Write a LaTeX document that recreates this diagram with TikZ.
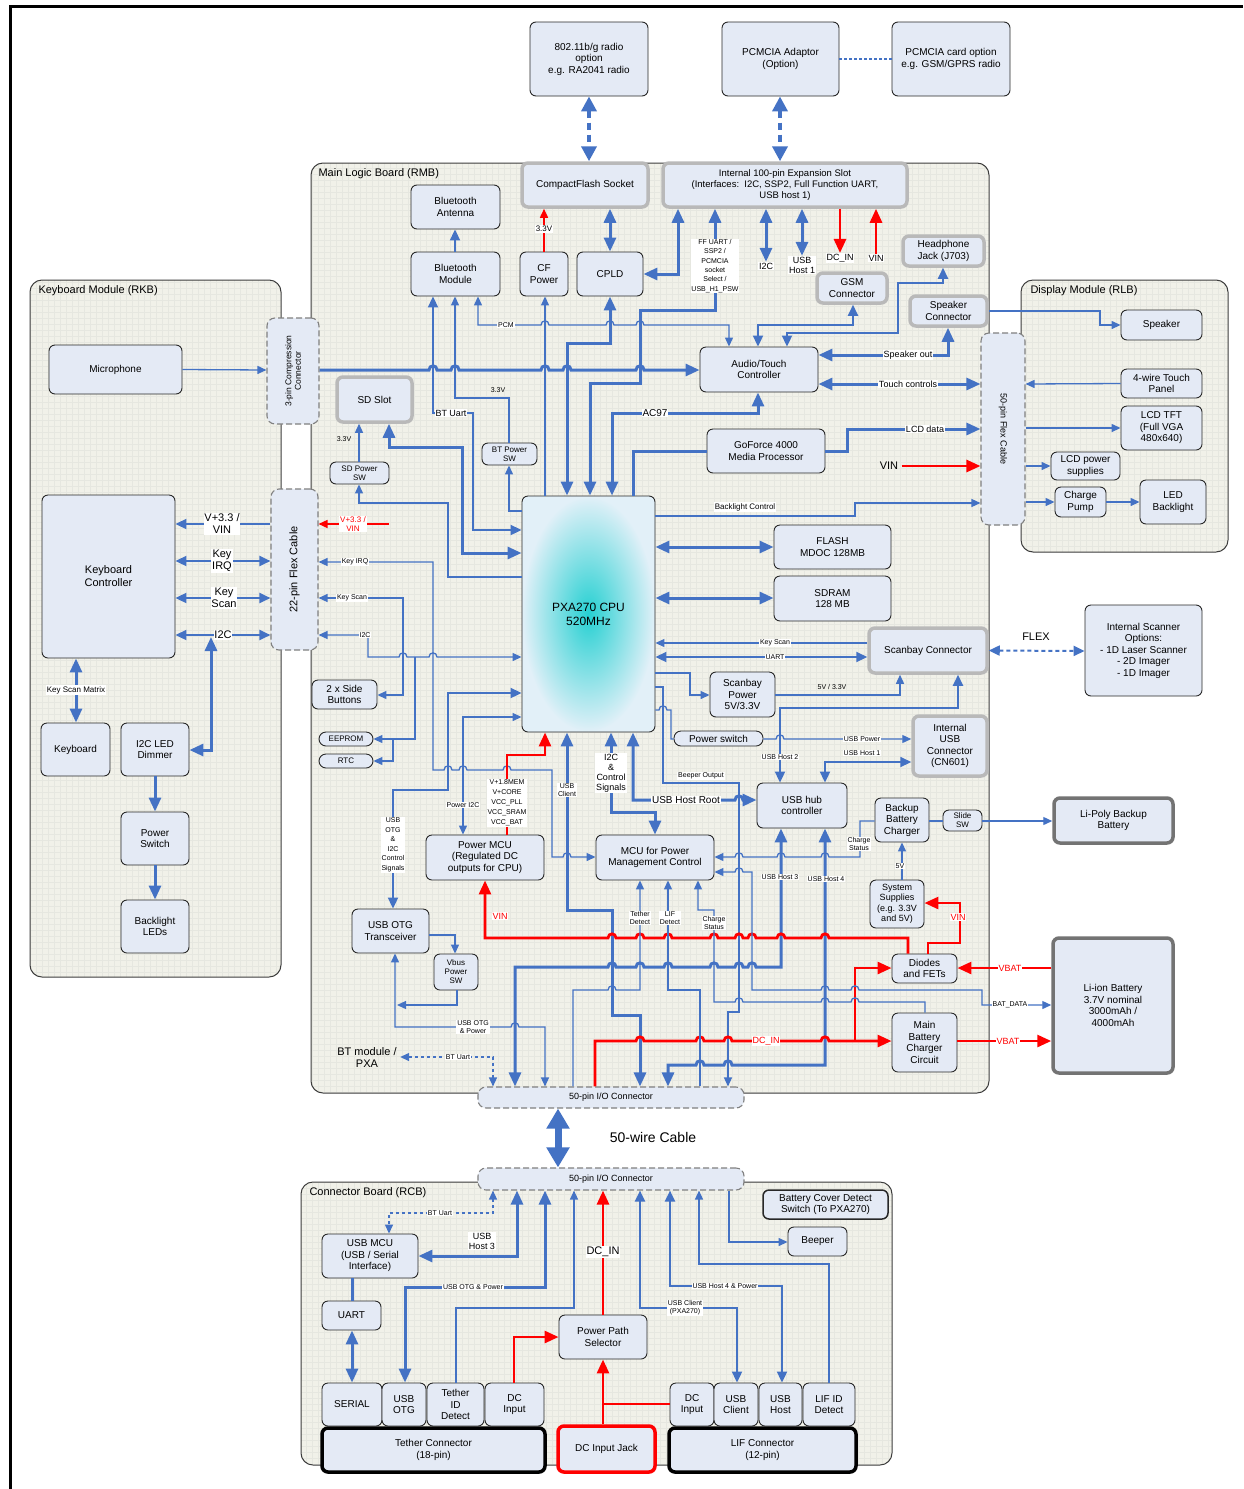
\documentclass[tikz,border=0pt]{standalone}
\usepackage{fontspec}
\setmainfont{Liberation Sans}
\usetikzlibrary{arrows.meta}
\definecolor{blu}{RGB}{68,114,196}
\definecolor{boxc}{RGB}{228,234,245}
\definecolor{panelc}{RGB}{241,241,233}
\definecolor{gridc}{RGB}{230,231,224}
\definecolor{gbord}{RGB}{185,185,185}
\definecolor{dgbord}{RGB}{115,115,115}
\definecolor{rr}{RGB}{255,0,0}
\definecolor{pborder}{RGB}{60,60,60}
\definecolor{bborder}{RGB}{40,40,40}
\newcommand\fsb{\fontsize{10}{11.5}\selectfont}
\newcommand\fss{\fontsize{8}{9}\selectfont}
\newcommand\fst{\fontsize{7}{8}\selectfont}
\newcommand\fsl{\fontsize{9}{10}\selectfont}
\newcommand\fsm{\fontsize{11}{12}\selectfont}
\newcommand\bx[7]{\node[#7, minimum width={(#4)-(#2)}, minimum height={(#5)-(#3)}] (#1) at ({((#2)+(#4))/2},{((#3)+(#5))/2}) {#6};}
\newcommand\jmp[2]{-- ({#1-4},#2) .. controls ({#1-4},{#2-5.5}) and ({#1+4},{#2-5.5}) .. ({#1+4},#2)}
\newcommand\panel[4]{\begin{scope}\clip[rounded corners=12] (#1,#2) rectangle (#3,#4);
 \fill[panelc] (#1,#2) rectangle (#3,#4);
 \draw[gridc, line width=0.35, step=6pt] (#1pt,-#4pt) grid (#3pt,-#2pt);\end{scope}
 \draw[line width=1, draw=pborder, rounded corners=12] (#1,#2) rectangle (#3,#4);}
\tikzset{
 xbox/.style={draw=bborder, line width=0.9, fill=boxc, rounded corners=6, align=center, inner sep=1pt, font=\fsb},
 gbox/.style={xbox, draw=gbord, line width=3.5},
 kbox/.style={xbox, draw=black, line width=3.5},
 dkbox/.style={xbox, draw=dgbord, line width=3.5},
 rbox/.style={xbox, draw=rr, line width=3.5},
 pill/.style={xbox, rounded corners=7},
 dbox/.style={draw=gray, dash pattern=on 6pt off 3pt, line width=1.1, fill=boxc, rounded corners=8, inner sep=1pt},
 cpubox/.style={draw=bborder, line width=0.9, rounded corners=6, shading=radial, inner color={rgb,255:red,38;green,208;blue,210}, outer color={rgb,255:red,226;green,240;blue,248}, align=center, font=\fontsize{12}{14}\selectfont},
 wthin/.style={draw=blu, line width=1.3, >={Triangle[length=9pt,width=8pt]}},
 wmed/.style={draw=blu, line width=2, >={Triangle[length=11pt,width=10pt]}},
 wthick/.style={draw=blu, line width=3, >={Triangle[length=14pt,width=12pt]}},
 wred/.style={draw=rr, line width=1.5, >={Triangle[length=9pt,width=8pt]}},
 wredk/.style={draw=rr, line width=2.8, >={Triangle[length=14pt,width=12pt]}},
 bigd/.style={draw=blu, line width=4, dash pattern=on 7pt off 5pt, arrows={Triangle[length=15pt,width=15pt]-Triangle[length=15pt,width=15pt]}},
 huge/.style={draw=blu, line width=7, arrows={Triangle[length=20pt,width=22pt]-Triangle[length=20pt,width=22pt]}},
 lab/.style={fill=white, inner sep=0.8pt, align=center, font=\fsl},
 labs/.style={lab, font=\fst},
 ptitle/.style={anchor=west, font=\fontsize{11}{13}\selectfont},
}
\begin{document}
\begin{tikzpicture}[x=1pt,y=-1pt]
\fill[white] (0,0) rectangle (1243,1489);
\useasboundingbox (0,0) rectangle (1243,1489);
\draw[line width=3] (10,1489) -- (10,6) -- (1243,6);
% panels
\panel{311}{163}{989}{1093}
\panel{30}{280}{281}{977}
\panel{1021}{280}{1228}{552}
\panel{301}{1182}{892}{1465}
\node[ptitle] (trmb) at (315,174) {Main Logic Board (RMB)};
\node[ptitle] (trkb) at (35,291) {Keyboard Module (RKB)};
\node[ptitle] (trlb) at (1027,291) {Display Module (RLB)};
\node[ptitle] (trcb) at (306,1193) {Connector Board (RCB)};
% top outside
\bx{radio}{530}{22}{648}{96}{802.11b/g radio\\option\\e.g. RA2041 radio}{xbox}
\bx{pcmad}{722}{22}{839}{96}{PCMCIA Adaptor\\(Option)}{xbox}
\bx{pcmcard}{892}{22}{1010}{96}{PCMCIA card option\\e.g. GSM/GPRS radio}{xbox}
% RMB boxes
\bx{cfs}{522}{163}{648}{207}{CompactFlash Socket}{gbox}
\bx{slot}{663}{163}{907}{207}{Internal 100-pin Expansion Slot\\(Interfaces:\ \ I2C, SSP2, Full Function UART,\\USB host 1)}{gbox, font=\fontsize{9.5}{11}\selectfont}
\bx{hp}{903}{236}{984}{266}{Headphone\\Jack (J703)}{gbox}
\bx{gsm}{817}{273}{887}{303}{GSM\\Connector}{gbox}
\bx{spkc}{910}{296}{987}{326}{Speaker\\Connector}{gbox}
\bx{sdslot}{337}{377}{412}{422}{SD Slot}{gbox}
\bx{scanc}{869}{628}{987}{673}{Scanbay Connector}{gbox}
\bx{iusb}{913}{716}{987}{776}{Internal\\USB\\Connector\\(CN601)}{gbox}
\bx{btant}{411}{185}{500}{229}{Bluetooth\\Antenna}{xbox}
\bx{btmod}{411}{252}{500}{296}{Bluetooth\\Module}{xbox}
\bx{cfp}{520}{252}{568}{296}{CF\\Power}{xbox}
\bx{cpld}{577}{252}{643}{296}{CPLD}{xbox}
\bx{audio}{700}{347}{818}{392}{Audio/Touch\\Controller}{xbox}
\bx{gf}{707}{429}{825}{473}{GoForce 4000\\Media Processor}{xbox}
\bx{cpu}{522}{496}{655}{732}{PXA270 CPU\\520MHz}{cpubox}
\bx{flash}{774}{525}{891}{569}{FLASH\\MDOC 128MB}{xbox}
\bx{sdram}{774}{576}{891}{621}{SDRAM\\128 MB}{xbox}
\bx{scpw}{710}{672}{775}{717}{Scanbay\\Power\\5V/3.3V}{xbox}
\bx{pwsw}{674}{731}{763}{746}{Power switch}{pill}
\bx{hub}{757}{783}{847}{828}{USB hub\\controller}{xbox}
\bx{bbc}{875}{798}{929}{842}{Backup\\Battery\\Charger}{xbox}
\bx{slide}{943}{810}{982}{831}{Slide\\SW}{xbox, font=\fss}
\bx{pmcu}{426}{835}{544}{880}{Power MCU\\(Regulated DC\\outputs for CPU)}{xbox}
\bx{mcupm}{596}{835}{714}{880}{MCU for Power\\Management Control}{xbox}
\bx{syss}{870}{880}{924}{928}{System\\Supplies\\(e.g. 3.3V\\and 5V)}{xbox, font=\fontsize{9}{10.5}\selectfont}
\bx{diodes}{892}{954}{957}{983}{Diodes\\and FETs}{xbox}
\bx{mbc}{892}{1013}{957}{1072}{Main\\Battery\\Charger\\Circuit}{xbox}
\bx{otg}{352}{909}{429}{953}{USB OTG\\Transceiver}{xbox}
\bx{vbus}{434}{954}{478}{990}{Vbus\\Power\\SW}{xbox, font=\fss}
\bx{side}{312}{680}{377}{709}{2 x Side\\Buttons}{xbox}
\bx{eeprom}{319}{732}{373}{746}{EEPROM}{pill, font=\fss}
\bx{rtc}{319}{754}{373}{768}{RTC}{pill, font=\fss}
\bx{sdpw}{330}{462}{389}{484}{SD Power\\SW}{xbox, font=\fss}
\bx{btpw}{482}{443}{537}{465}{BT Power\\SW}{xbox, font=\fss}
\bx{pin3}{267}{318}{319}{424}{}{dbox}
\node[rotate=90, font=\fontsize{8.5}{9.5}\selectfont, align=center] (pin3t) at (pin3) {3-pin Compression\\Connector};
\bx{flex22}{271}{489}{318}{650}{}{dbox}
\node[rotate=90, font=\fsm] (flex22t) at (flex22) {22-pin Flex Cable};
\bx{flex50}{981}{333}{1025}{525}{}{dbox}
\node[rotate=-90, font=\fsl] (flex50t) at (flex50) {50-pin Flex Cable};
\bx{io1}{478}{1087}{744}{1108}{50-pin I/O Connector}{dbox, font=\fsl}
\bx{io2}{478}{1168}{744}{1190}{50-pin I/O Connector}{dbox, font=\fsl}
% keyboard
\bx{mic}{49}{345}{182}{394}{Microphone}{xbox}
\bx{kc}{42}{495}{175}{658}{Keyboard\\Controller}{xbox, font=\fontsize{11}{13}\selectfont}
\bx{kbd}{41}{723}{110}{776}{Keyboard}{xbox}
\bx{led}{121}{723}{189}{776}{I2C LED\\Dimmer}{xbox}
\bx{pwr}{121}{812}{189}{865}{Power\\Switch}{xbox}
\bx{bl}{121}{900}{189}{953}{Backlight\\LEDs}{xbox}
% display
\bx{spk}{1121}{310}{1202}{340}{Speaker}{xbox}
\bx{touch}{1121}{369}{1202}{398}{4-wire Touch\\Panel}{xbox}
\bx{lcd}{1121}{406}{1202}{450}{LCD TFT\\(Full VGA\\480x640)}{xbox}
\bx{lcdps}{1051}{452}{1120}{480}{LCD power\\supplies}{xbox}
\bx{cpump}{1055}{487}{1106}{517}{Charge\\Pump}{xbox}
\bx{ledbl}{1140}{480}{1206}{524}{LED\\Backlight}{xbox}
% right outside
\bx{scanopt}{1085}{605}{1202}{696}{Internal Scanner\\Options:\\- 1D Laser Scanner\\- 2D Imager\\- 1D Imager}{xbox}
\bx{lipoly}{1054}{798}{1173}{843}{Li-Poly Backup\\Battery}{dkbox}
\bx{liion}{1053}{938}{1173}{1073}{Li-ion Battery\\3.7V nominal\\3000mAh /\\4000mAh}{dkbox}
% connector board
\bx{bcd}{763}{1190}{888}{1219}{Battery Cover Detect\\Switch (To PXA270)}{xbox, line width=1.5}
\bx{beeper}{788}{1227}{847}{1256}{Beeper}{xbox}
\bx{usbmcu}{322}{1234}{418}{1278}{USB MCU\\(USB / Serial\\Interface)}{xbox}
\bx{uart}{322}{1301}{381}{1330}{UART}{xbox}
\bx{pps}{559}{1315}{647}{1359}{Power Path\\Selector}{xbox}
\bx{serial}{322}{1383}{382}{1426}{SERIAL}{xbox}
\bx{usbotg}{382}{1383}{426}{1426}{USB\\OTG}{xbox}
\bx{tid}{427}{1383}{484}{1426}{Tether\\ID\\Detect}{xbox}
\bx{dci1}{485}{1383}{544}{1426}{DC\\Input}{xbox}
\bx{tcon}{322}{1428}{545}{1472}{Tether Connector\\(18-pin)}{kbox}
\bx{dcj}{558}{1426}{655}{1472}{DC Input Jack}{rbox}
\bx{dci2}{670}{1383}{714}{1426}{DC\\Input}{xbox}
\bx{usbc}{714}{1383}{758}{1426}{USB\\Client}{xbox}
\bx{usbh}{759}{1383}{802}{1426}{USB\\Host}{xbox}
\bx{lifid}{803}{1383}{855}{1426}{LIF ID\\Detect}{xbox}
\bx{lcon}{669}{1428}{856}{1472}{LIF Connector\\(12-pin)}{kbox}
% ---------------- connectors: top
\draw[bigd] (589,0|-radio.south) -- (589,0|-cfs.north);
\draw[bigd] (780,0|-pcmad.south) -- (780,0|-slot.north);
\draw[draw=blu, line width=2, dash pattern=on 3pt off 2pt] (pcmad.east) -- (pcmcard.west);
\draw[wred,->] (544,0|-cfp.north) -- (544,0|-cfs.south);
\node[labs, font=\fss] (t33a) at (544,229) {3.3V};
\draw[wthick,<->] (610,0|-cpld.north) -- (610,0|-cfs.south);
\draw[wthick,<->] (cpld.east|-0,274) -- (678,274) -- (678,0|-slot.south);
\draw[wthick,<->] (590,0|-cpu.north) -- (590,383) -- (640,383) -- (640,310) -- (715,310) -- (715,0|-slot.south);
\node[lab, font=\fontsize{7}{9.3}\selectfont] (tff) at (715,266) {FF UART /\\SSP2 /\\PCMCIA\\socket\\Select /\\USB\_H1\_PSW};
\node[lab] (ti2c) at (766,266) {I2C};
\draw[wthick,<->] (766,0|-slot.south) -- (ti2c.north);
\node[lab] (tuh1) at (802,265) {USB\\Host 1};
\draw[wthick,<->] (802,0|-slot.south) -- (tuh1.north);
\node[lab] (tdcin) at (840,258) {DC\_IN};
\draw[wredk,->] (840,0|-slot.south) -- (tdcin.north);
\node[lab] (tvin1) at (876,258) {VIN};
\draw[wredk,<-] (876,0|-slot.south) -- (tvin1.north);
% BT and upper RMB
\draw[wmed,->] (455,0|-btmod.north) -- (455,0|-btant.south);
\draw[wthin,<->] (478,0|-btmod.south) -- (478,325) \jmp{545}{325} \jmp{610}{325} \jmp{640}{325} -- (729,325) -- (729,0|-audio.north);
\node[labs] (tpcm) at (506,325) {PCM};
\draw[wmed,<->] (433,0|-btmod.south) -- (433,413) -- (473,413) -- (473,530) -- (cpu.west|-0,530);
\node[lab] (tbtu) at (451,413) {BT Uart};
\draw[wthin,->] (509,0|-btpw.north) -- (509,398) -- (455,398) -- (455,0|-btmod.south);
\node[font=\fst] (t33b) at (498,390) {3.3V};
\draw[wthin,->] (cpu.west|-0,511) -- (509,511) -- (509,0|-btpw.south);
\draw[wthin,->] (545,0|-cpu.north) -- (545,0|-cfp.south);
\draw[wthick,<->] (567,0|-cpu.north) -- (567,343) -- (610,343) -- (610,0|-cpld.south);
\draw[wthin,->] (mic.east) -- (pin3.west|-0,370);
\draw[wthick,->] (pin3.east|-0,370) \jmp{433}{370} \jmp{455}{370} \jmp{545}{370} \jmp{567}{370} \jmp{640}{370} -- (audio.west|-0,370);
\draw[wthick,<->] (612,0|-cpu.north) -- (612,413) -- (758,413) -- (758,0|-audio.south);
\node[lab, font=\fontsize{10}{11}\selectfont] (tac97) at (655,413) {AC97};
\draw[wthick] (633,0|-cpu.north) -- (633,451) -- (gf.west|-0,451);
\draw[wthick,->] (gf.east|-0,451) -- (847,451) -- (847,429) -- (flex50.west|-0,429);
\node[lab] (tlcd) at (925,429) {LCD data};
\draw[wthick,<->] (audio.east|-0,355) -- (948,355) -- (948,0|-spkc.south);
\node[lab] (tspo) at (908,355) {Speaker out};
\draw[wthick,<->] (audio.east|-0,384) -- (flex50.west|-0,384);
\node[lab] (ttc) at (908,384) {Touch controls};
\draw[wmed,<->] (758,0|-audio.north) -- (758,325) -- (853,325) -- (853,0|-gsm.south);
\draw[wmed,<->] (787,0|-audio.north) -- (787,333) -- (898,333) -- (898,283) -- (943,283) -- (943,0|-hp.south);
\node[font=\fsm] (tvin2) at (889,466) {VIN};
\draw[wredk,->] (tvin2.east) -- (flex50.west|-0,466);
\draw[wthin,->] (cpu.east|-0,516) -- (855,516) -- (855,503) -- (flex50.west|-0,503);
\node[lab, font=\fss] (tblc) at (745,507) {Backlight Control};
% display
\draw[wthin,->] (spkc.east|-0,311) -- (1100,311) -- (1100,325) -- (spk.west);
\draw[wthin,->] (touch.west) -- (flex50.east|-0,384);
\draw[wthin,->] (flex50.east|-0,428) -- (lcd.west|-0,428);
\draw[wthin,->] (flex50.east|-0,466) -- (lcdps.west|-0,466);
\draw[wthin,->] (flex50.east|-0,502) -- (cpump.west|-0,502);
\draw[wthin,->] (cpump.east|-0,502) -- (ledbl.west|-0,502);
% keyboard
\draw[wmed,->] (flex22.west|-0,524) -- (kc.east|-0,524);
\node[lab, font=\fsm] (tk1) at (222,524) {V+3.3 /\\VIN};
\draw[wmed,<->] (kc.east|-0,561) -- (flex22.west|-0,561);
\node[lab, font=\fsm] (tk2) at (222,561) {Key\\IRQ};
\draw[wmed,<->] (kc.east|-0,598) -- (flex22.west|-0,598);
\node[lab, font=\fsm] (tk3) at (224,598) {Key\\Scan};
\draw[wmed,<->] (kc.east|-0,635) -- (flex22.west|-0,635);
\node[lab, font=\fsm] (tk4) at (223,635) {I2C};
\coordinate (ci2c) at (211,637);
\draw[wthick,<->] (ci2c) -- (211,750) -- (led.east|-0,750);
\draw[wthick,<->] (76,0|-kc.south) -- (76,0|-kbd.north);
\node[lab, font=\fss] (tksm) at (76,690) {Key Scan Matrix};
\draw[wthick,->] (led) -- (pwr);
\draw[wthick,->] (pwr) -- (bl);
% left RMB
\coordinate (cvr) at (389,524);
\draw[wred,->] (cvr) -- (flex22.east|-0,524);
\node[lab, font=\fss, text=rr] (tvr) at (353,524) {V+3.3 /\\VIN};
\draw[wthin,<->] (flex22.east|-0,562) -- (433,562) -- (433,770) \jmp{448}{770} \jmp{463}{770} \jmp{507}{770} -- (552,770) -- (552,857) \jmp{567}{857} -- (mcupm.west|-0,857);
\node[labs] (tkirq) at (355,562) {Key IRQ};
\draw[wthin,<->] (flex22.east|-0,598) -- (403,598) -- (403,695) -- (side.east|-0,695);
\node[labs] (tkscan) at (352,598) {Key Scan};
\draw[wthin,<->] (flex22.east|-0,635) -- (368,635) -- (368,657) \jmp{403}{657} \jmp{433}{657} -- (cpu.west|-0,657);
\node[labs] (ti2cb) at (365,635) {I2C};
\coordinate (ce1) at (415,657);
\draw[wthin,->] (ce1) -- (415,739) -- (eeprom.east|-0,739);
\coordinate (ce2) at (393,739);
\draw[wthin,->] (ce2) -- (393,761) -- (rtc.east|-0,761);
\draw[wthick,<->] (389,0|-sdslot.south) -- (389,447) -- (462,447) -- (462,553) -- (cpu.west|-0,553);
\draw[wthin,->] (cpu.west|-0,577) -- (448,577) -- (448,503) -- (359,503) -- (359,0|-sdpw.south);
\draw[wthin,->] (359,0|-sdpw.north) -- (359,0|-sdslot.south);
\node[font=\fst] (t33c) at (344,439) {3.3V};
\draw[wmed,<->] (cpu.west|-0,693) -- (448,693) -- (448,790) -- (393,790) -- (393,0|-otg.north);
\node[lab, font=\fontsize{7}{9.5}\selectfont] (totg) at (393,845) {USB\\OTG\\\&\\I2C\\Control\\Signals};
\draw[wthin,<->] (cpu.west|-0,717) -- (463,717) -- (463,0|-pmcu.north);
\node[labs] (tpi2c) at (463,805) {Power I2C};
\draw[wredk,->] (507,0|-pmcu.north) -- (507,755) -- (545,755) -- (545,0|-cpu.south);
\node[lab, font=\fontsize{7}{10}\selectfont] (tvcc) at (507,803) {V+1.8MEM\\V+CORE\\VCC\_PLL\\VCC\_SRAM\\VCC\_BAT};
\draw[wthick,<->] (567,0|-cpu.south) -- (567,910) -- (612,910) -- (612,1015) -- (640,1015) -- (640,0|-io1.north);
\node[labs] (tusbc) at (567,790) {USB\\Client};
\draw[wthick,<->] (611,0|-cpu.south) -- (611,812) -- (655,812) -- (655,0|-mcupm.north);
\node[lab] (ti2cc) at (611,773) {I2C\\\&\\Control\\Signals};
\draw[wthick,<->] (633,0|-cpu.south) -- (633,800) \jmp{739}{800} -- (hub.west|-0,800);
\node[lab, font=\fontsize{10}{11}\selectfont] (tuhr) at (686,800) {USB Host Root};
% right of CPU
\draw[wthick,<->] (cpu.east|-0,547) -- (flash.west|-0,547);
\draw[wthick,<->] (cpu.east|-0,598) -- (sdram.west|-0,598);
\draw[wthin,->] (scanc.west|-0,643) -- (cpu.east|-0,643);
\node[labs] (tks2) at (775,643) {Key Scan};
\draw[wmed,<->] (cpu.east|-0,657) -- (scanc.west|-0,657);
\node[labs] (tuart) at (775,657) {UART};
\draw[wthin,->] (cpu.east|-0,673) -- (690,673) -- (690,695) -- (scpw.west|-0,695);
\draw[wthin,->] (scpw.east|-0,695) -- (900,695) -- (900,0|-scanc.south);
\node[font=\fst] (t5v33) at (832,687) {5V / 3.3V};
\draw[wthin,->] (cpu.east|-0,687) -- (663,687) -- (663,783) -- (739,783) -- (739,1012) -- (728,1012) -- (728,0|-io1.north);
\node[labs] (tbeep) at (701,776) {Beeper Output};
\draw[wthin] (cpu.east|-0,710) \jmp{663}{710} -- (671,710) -- (671,739) -- (pwsw.west|-0,739);
\draw[wthin,->] (pwsw.east|-0,739) \jmp{780}{739} -- (iusb.west|-0,739);
\node[labs] (tusbp) at (862,739) {USB Power};
\draw[wmed,<->] (958,0|-scanc.south) -- (958,708) -- (780,708) -- (780,0|-hub.north);
\node[labs] (tuh2) at (780,757) {USB Host 2};
\draw[wmed,<->] (825,0|-hub.north) -- (825,762) -- (iusb.west|-0,762);
\node[labs] (tuh1b) at (862,753) {USB Host 1};
\draw[wthick,<->] (515,0|-io1.north) -- (515,967) \jmp{612}{967} \jmp{640}{967} \jmp{668}{967} \jmp{714}{967} \jmp{739}{967} \jmp{752}{967} -- (781,967) -- (781,0|-hub.south);
\node[labs] (tuh3) at (780,877) {USB Host 3};
\draw[wthick,<->] (668,0|-io1.north) -- (668,1065) \jmp{700}{1065} \jmp{728}{1065} -- (825,1065) -- (825,0|-hub.south);
\node[labs] (tuh4) at (826,879) {USB Host 4};
% power
\draw[wredk,<-] (485,0|-pmcu.south) -- (485,938) \jmp{612}{938} \jmp{640}{938} \jmp{668}{938} \jmp{714}{938} \jmp{739}{938} \jmp{752}{938} \jmp{781}{938} \jmp{825}{938} -- (908,938) -- (908,0|-diodes.north);
\node[lab, text=rr] (tvin3) at (500,916) {VIN};
\draw[wredk,->] (928,0|-diodes.north) -- (928,943) -- (960,943) -- (960,903) -- (syss.east|-0,903);
\node[lab, text=rr] (tvin4) at (958,917) {VIN};
\draw[wredk,->] (liion.west|-0,968) -- (diodes.east|-0,968);
\node[lab, text=rr] (tvb1) at (1010,968) {VBAT};
\draw[wredk,->] (mbc.east|-0,1041) -- (liion.west|-0,1041);
\node[lab, text=rr] (tvb2) at (1008,1041) {VBAT};
\draw[wredk,->] (595,0|-io1.north) -- (595,1041) \jmp{640}{1041} \jmp{700}{1041} \jmp{728}{1041} \jmp{825}{1041} -- (mbc.west|-0,1041);
\node[lab, text=rr] (tdcin2) at (766,1041) {DC\_IN};
\coordinate (cdc) at (855,1041);
\draw[wredk,->] (cdc) -- (855,968) -- (diodes.west|-0,968);
\draw[wthin,<-] (698,0|-mcupm.south) -- (698,910) -- (714,910) -- (714,1002) \jmp{739}{1002} \jmp{825}{1002} \jmp{855}{1002} -- (925,1002) -- (925,0|-mbc.north);
\node[labs] (tcs1) at (714,923) {Charge\\Status};
\draw[wthin,<->] (mcupm.east|-0,872) \jmp{739}{872} -- (752,872) -- (752,990) \jmp{825}{990} \jmp{855}{990} -- (982,990) -- (982,1005) -- (liion.west|-0,1005);
\node[labs] (tbat) at (1010,1005) {BAT\_DATA};
\draw[wthin,<-] (mcupm.east|-0,857) \jmp{739}{857} \jmp{781}{857} \jmp{825}{857} -- (860,857) -- (860,821) -- (bbc.west|-0,821);
\node[labs] (tcs2) at (859,844) {Charge\\Status};
\draw[wthin,->] (902,0|-syss.north) -- (902,0|-bbc.south);
\node[labs] (t5v) at (900,866) {5V};
\draw[wthin] (bbc.east|-0,821) -- (slide.west|-0,821);
\draw[wthin,->] (slide.east|-0,821) -- (lipoly.west|-0,821);
\draw[wthin,->] (573,0|-io1.north) -- (573,990) \jmp{612}{990} -- (640,990) -- (640,0|-mcupm.south);
\node[labs] (ttd) at (640,918) {Tether\\Detect};
\draw[wthin,->] (700,0|-io1.north) -- (700,990) -- (668,990) -- (668,0|-mcupm.south);
\node[labs] (tlif) at (670,918) {LIF\\Detect};
\draw[wthin,<->] (395,0|-otg.south) -- (395,1027) \jmp{515}{1027} -- (545,1027) -- (545,0|-io1.north);
\node[labs] (tuop) at (473,1027) {USB OTG\\\& Power};
\draw[wthin,->] (otg.east|-0,935) -- (455,935) -- (455,0|-vbus.north);
\coordinate (cvb) at (397,1005);
\draw[wthin,->] (457,0|-vbus.south) -- (457,1005) -- (cvb);
\node[font=\fsm, align=center] (tbtpxa) at (367,1057) {BT module /\\PXA};
\draw[wthin, dashed, <->] (tbtpxa.east|-0,1057) -- (493,1057) -- (493,0|-io1.north);
\node[labs] (tbtu2) at (458,1057) {BT Uart};
% scanner / cable
\draw[wmed, dash pattern=on 4pt off 3pt, <->] (scanc.east) -- (scanopt.west|-0,651);
\node[font=\fsm] (tflex) at (1036,637) {FLEX};
\draw[huge] (558,0|-io1.south) -- (558,0|-io2.north);
\node[font=\fontsize{14}{16}\selectfont] (t50w) at (653,1137) {50-wire Cable};
% connector board
\draw[wthin, dashed, <->] (493,0|-io2.south) -- (493,1213) -- (389,1213) -- (389,0|-usbmcu.north);
\node[labs] (tbtu3) at (440,1213) {BT Uart};
\draw[wthick,<->] (517,0|-io2.south) -- (517,1256) -- (usbmcu.east|-0,1256);
\node[lab] (tuh3b) at (482,1241) {USB\\Host 3};
\draw[wthick,<->] (545,0|-io2.south) -- (545,1287) -- (405,1287) -- (405,0|-usbotg.north);
\node[labs] (tuop2) at (473,1287) {USB OTG \& Power};
\draw[wthin,->] (456,0|-tid.north) -- (456,1308) -- (574,1308) -- (574,0|-io2.south);
\draw[wredk,->] (514,0|-dci1.north) -- (514,1337) -- (pps.west|-0,1337);
\draw[wthick] (352,0|-usbmcu.south) -- (352,0|-uart.north);
\draw[wthick,<->] (352,0|-uart.south) -- (352,0|-serial.north);
\draw[wredk,->] (603,0|-dcj.north) -- (603,0|-pps.south);
\coordinate (cdj) at (603,1404);
\draw[wred] (cdj) -- (dci2.west|-0,1404);
\draw[wredk,->] (603,0|-pps.north) -- (603,0|-io2.south);
\node[lab, font=\fsm] (tdcin3) at (603,1252) {DC\_IN};
\draw[wmed,<->] (640,0|-io2.south) -- (640,1308) -- (737,1308) -- (737,0|-usbc.north);
\node[labs] (tuc2) at (685,1308) {USB Client\\(PXA270)};
\draw[wmed,<->] (670,0|-io2.south) -- (670,1286) -- (782,1286) -- (782,0|-usbh.north);
\node[labs] (tuh4b) at (725,1286) {USB Host 4 \& Power};
\draw[wthin,->] (829,0|-lifid.north) -- (829,1264) -- (699,1264) -- (699,0|-io2.south);
\draw[wthin,->] (729,0|-io2.south) -- (729,1242) -- (beeper.west|-0,1242);
\end{tikzpicture}
\end{document}
